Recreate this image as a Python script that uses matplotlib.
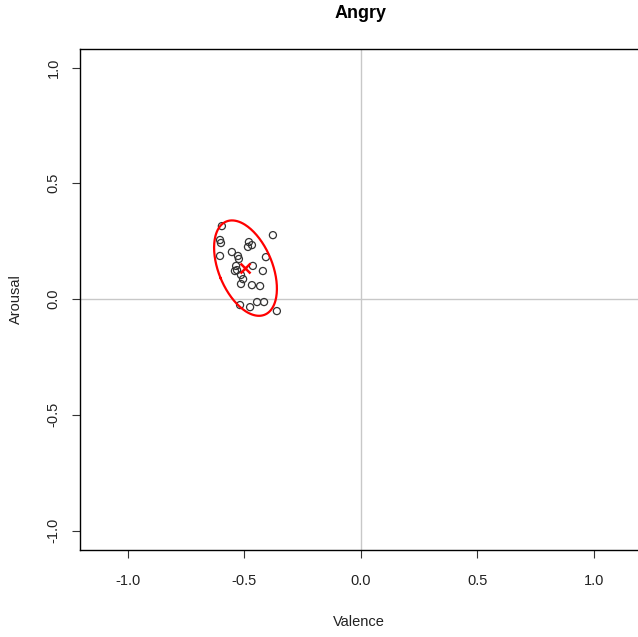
import numpy as np
import matplotlib
matplotlib.use("Agg")
from matplotlib import pyplot as plt

plt.rcParams["font.family"] = ["Liberation Sans", "DejaVu Sans"]

# valence / arousal ratings for "Angry"
valence = [-0.597, -0.605, -0.601, -0.605, -0.378, -0.481, -0.468, -0.485, -0.554,
           -0.528, -0.524, -0.408, -0.536, -0.464, -0.532, -0.541, -0.515, -0.506,
           -0.515, -0.421, -0.468, -0.433, -0.519, -0.476, -0.446, -0.416, -0.361]
arousal = [0.315, 0.255, 0.242, 0.186, 0.276, 0.246, 0.233, 0.225, 0.203,
           0.186, 0.173, 0.181, 0.143, 0.143, 0.125, 0.121, 0.104, 0.086,
           0.065, 0.121, 0.060, 0.056, -0.026, -0.035, -0.013, -0.013, -0.052]
ticks = [-1.0, -0.5, 0.0, 0.5, 1.0]

x = np.array(valence)
y = np.array(arousal)
mx, my = x.mean(), y.mean()

# 2-SD covariance ellipse around the mean
cov = np.cov(x, y)
k = 2.0
vals, vecs = np.linalg.eigh(cov)
t = np.linspace(0, 2 * np.pi, 200)
circ = np.vstack([np.cos(t), np.sin(t)])
ell = vecs @ (np.sqrt(vals)[:, None] * circ) * k
ex, ey = ell[0] + mx, ell[1] + my

fig = plt.figure(figsize=(6.38, 6.37), dpi=100)
ax = fig.add_axes([80 / 638, 1 - 550 / 637, 1 - 80 / 638, (550 - 49) / 637])

ax.axhline(0, color="#c8c8c8", lw=1, zorder=1)
ax.axvline(0, color="#c8c8c8", lw=1, zorder=1)

ax.scatter(x, y, s=26, facecolors="none", edgecolors="#333333", linewidths=0.9, zorder=3)
ax.plot(ex, ey, color="red", lw=1.6, zorder=4)
ax.plot(mx, my, marker="x", color="red", ms=7, mew=1.8, zorder=5)

ax.set_xlim(-1.206, 1.189)
ax.set_ylim(-1.084, 1.080)
ax.set_xticks(ticks)
ax.set_yticks(ticks)
ax.set_xticklabels([f"{v:.1f}" for v in ticks])
ax.set_yticklabels([f"{v:.1f}" for v in ticks], rotation=90, va="center")
ax.tick_params(labelsize=10.5, length=6, width=0.8, color="#333333",
               labelcolor="#222222")
ax.tick_params(axis="x", pad=11)
ax.tick_params(axis="y", pad=8)
ax.spines["right"].set_visible(False)
for s in ("left", "top", "bottom"):
    ax.spines[s].set_linewidth(1.0)

ax.set_xlabel("Valence", fontsize=10.5, color="#222222", labelpad=20)
ax.set_ylabel("Arousal", fontsize=10.5, color="#222222", labelpad=17)
fig.text(361 / 638, 1 - 13 / 637, "Angry", ha="center", va="center",
         fontsize=13, fontweight="bold")

fig.savefig("out.png", dpi=100)
